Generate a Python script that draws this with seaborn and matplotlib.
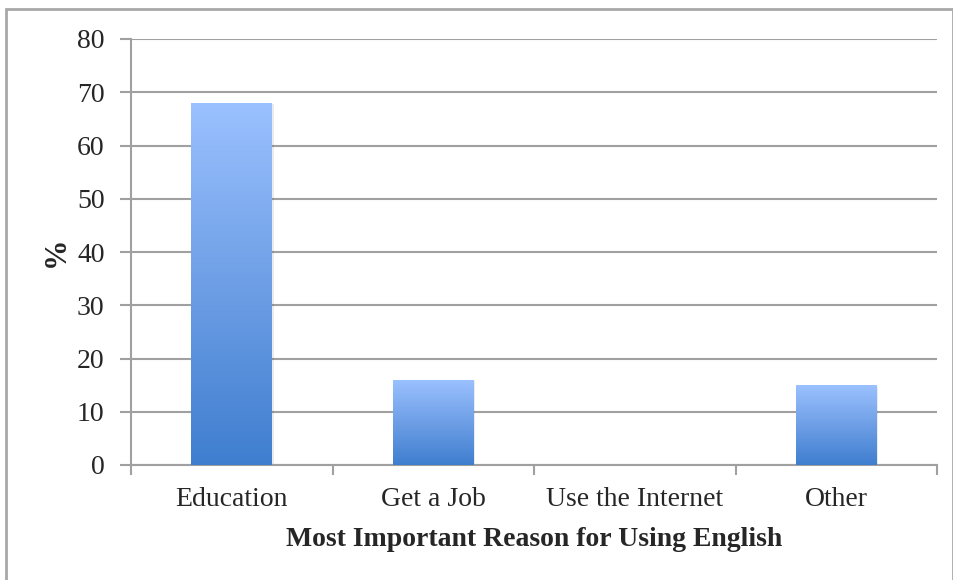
import numpy as np
import pandas as pd
import matplotlib
matplotlib.use("Agg")
import matplotlib.pyplot as plt
import seaborn as sns
from matplotlib.colors import LinearSegmentedColormap
from matplotlib.patches import Rectangle

categories = ["Education", "Get a Job", "Use the Internet", "Other"]
values = [68, 16, 0, 15]
y_ticks = [0, 10, 20, 30, 40, 50, 60, 70, 80]

sns.set_theme(style="white")
plt.rcParams['font.family'] = ['Liberation Serif', 'DejaVu Serif']

fig = plt.figure(figsize=(9.54, 5.80), dpi=100)
ax = fig.add_axes([131/954, 115/580, (937-131)/954, (465-39)/580])

df = pd.DataFrame({"cat": categories, "val": values})
sns.barplot(data=df, x="cat", y="val", ax=ax, width=0.40, color="#6FA0E8",
            edgecolor="none", zorder=3)

cmap = LinearSegmentedColormap.from_list("g", ["#3F7ECF", "#6E9FE6", "#9BC1FF"])
grad = np.linspace(0, 1, 256).reshape(-1, 1)
for p in ax.patches:
    x0, y0 = p.get_x(), p.get_y()
    w, h = p.get_width(), p.get_height()
    if h <= 0:
        continue
    sh = Rectangle((x0 + 0.008, y0), w, h - 0.3, facecolor="#000000", alpha=0.08,
                   edgecolor="none", zorder=2.5)
    ax.add_patch(sh)
    p.set_facecolor("none")
    im = ax.imshow(grad, extent=[x0, x0 + w, y0, y0 + h], origin="lower",
                   cmap=cmap, aspect="auto", zorder=3)
    im.set_clip_path(p)

ax.set_xlim(-0.5, 3.5)
ax.set_ylim(0, 80)
ax.set_yticks(y_ticks)
ax.set_yticklabels([str(t) for t in y_ticks], fontsize=20)
ax.set_xticks(range(len(categories)))
ax.set_xticklabels(categories, fontsize=20)
ax.set_xticks([-0.5, 0.5, 1.5, 2.5, 3.5], minor=True)

grid_c = "#A0A0A0"
ax.yaxis.grid(True, color=grid_c, linewidth=1.5, zorder=0)
ax.xaxis.grid(False)
for s in ["top", "right"]:
    ax.spines[s].set_visible(False)
for s in ["left", "bottom"]:
    ax.spines[s].set_color(grid_c)
    ax.spines[s].set_linewidth(1.5)
ax.tick_params(axis="y", which="major", length=8, width=1.5, color=grid_c, pad=11, left=True)
ax.tick_params(axis="x", which="major", length=0, pad=16)
ax.tick_params(axis="x", which="minor", length=7, width=1.5, color=grid_c, bottom=True)

ax.set_xlabel("Most Important Reason for Using English", fontsize=20,
              fontweight="bold", labelpad=11)
ax.set_ylabel("%", fontsize=22, fontweight="bold")
ax.yaxis.set_label_coords((71 - 131) / (937 - 131), 0.5)

fig.patches.append(Rectangle((6/954, -0.01), (953-6)/954, (580-9)/580 + 0.01,
                             transform=fig.transFigure, fill=False,
                             edgecolor="#A8A8A8", linewidth=2))

fig.savefig("out.png", dpi=100)
